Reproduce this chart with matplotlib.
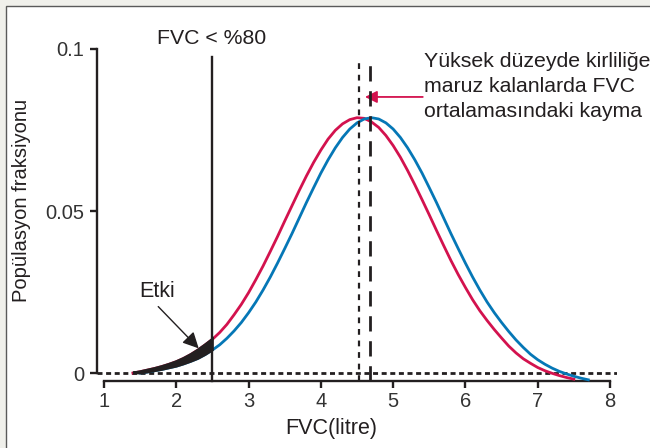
import matplotlib.pyplot as plt
from matplotlib.patches import Rectangle

# red curve: population exposed to high pollution (shifted left)
red_fvc = [1.4, 1.5, 1.6, 1.7, 1.8, 1.9, 2.0, 2.1, 2.2, 2.3, 2.4, 2.5,
           2.6, 2.7, 2.8, 2.9, 3.0, 3.1, 3.2, 3.3, 3.4, 3.5, 3.6, 3.7,
           3.8, 3.9, 4.0, 4.1, 4.2, 4.3, 4.4, 4.5, 4.6, 4.7, 4.8, 4.9,
           5.0, 5.1, 5.2, 5.3, 5.4, 5.5, 5.6, 5.7, 5.8, 5.9, 6.0, 6.1,
           6.2, 6.3, 6.4, 6.5, 6.6, 6.7, 6.8, 6.9, 7.0, 7.1, 7.2, 7.3,
           7.4, 7.5]
red_fraction = [0.0000, 0.0004, 0.0009, 0.0014, 0.0020, 0.0027, 0.0035, 0.0045,
                0.0057, 0.0071, 0.0087, 0.0104, 0.0125, 0.0150, 0.0180, 0.0212,
                0.0248, 0.0288, 0.0330, 0.0375, 0.0421, 0.0469, 0.0516, 0.0563,
                0.0608, 0.0650, 0.0688, 0.0722, 0.0749, 0.0769, 0.0782, 0.0788,
                0.0786, 0.0775, 0.0758, 0.0733, 0.0702, 0.0666, 0.0625, 0.0581,
                0.0535, 0.0488, 0.0440, 0.0393, 0.0347, 0.0304, 0.0264, 0.0226,
                0.0192, 0.0162, 0.0134, 0.0108, 0.0083, 0.0062, 0.0044, 0.0030,
                0.0017, 0.0007, -0.0001, -0.0008, -0.0014, -0.0019]

# blue curve: reference population
blue_fvc = [1.5, 1.6, 1.7, 1.8, 1.9, 2.0, 2.1, 2.2, 2.3, 2.4, 2.5, 2.6,
            2.7, 2.8, 2.9, 3.0, 3.1, 3.2, 3.3, 3.4, 3.5, 3.6, 3.7, 3.8,
            3.9, 4.0, 4.1, 4.2, 4.3, 4.4, 4.5, 4.6, 4.7, 4.8, 4.9, 5.0,
            5.1, 5.2, 5.3, 5.4, 5.5, 5.6, 5.7, 5.8, 5.9, 6.0, 6.1, 6.2,
            6.3, 6.4, 6.5, 6.6, 6.7, 6.8, 6.9, 7.0, 7.1, 7.2, 7.3, 7.4,
            7.5, 7.6, 7.7]
blue_fraction = [0.0000, 0.0003, 0.0007, 0.0011, 0.0016, 0.0021, 0.0028, 0.0036,
                 0.0045, 0.0057, 0.0071, 0.0087, 0.0107, 0.0130, 0.0156, 0.0186,
                 0.0219, 0.0256, 0.0296, 0.0339, 0.0384, 0.0430, 0.0478, 0.0526,
                 0.0572, 0.0617, 0.0658, 0.0695, 0.0727, 0.0753, 0.0772, 0.0784,
                 0.0788, 0.0784, 0.0772, 0.0753, 0.0727, 0.0695, 0.0658, 0.0617,
                 0.0572, 0.0526, 0.0478, 0.0430, 0.0384, 0.0339, 0.0296, 0.0256,
                 0.0219, 0.0186, 0.0156, 0.0128, 0.0102, 0.0079, 0.0058, 0.0041,
                 0.0027, 0.0015, 0.0005, -0.0003, -0.0010, -0.0016, -0.0021]

threshold_fvc = 2.5
exposed_mean = 4.53
normal_mean = 4.68

x_ticks = [1, 2, 3, 4, 5, 6, 7, 8]
y_ticks = [0, 0.05, 0.1]
y_tick_labels = ["0", "0.05", "0.1"]

RED = "#d3124e"
BLUE = "#0577b6"
INK = "#231f20"
SANS = ["Liberation Sans", "DejaVu Sans"]

W, H = 650, 448


def main() -> None:
    fig = plt.figure(figsize=(6.5, 4.48), dpi=100)
    fig.patch.set_facecolor("#f0f0eb")
    fig.add_artist(Rectangle((6 / W, -0.05), 1.0, (H - 6) / H + 0.05,
                             transform=fig.transFigure, facecolor="white",
                             edgecolor="#5a5a5a", lw=1.0, zorder=-5))

    ax = fig.add_axes([96.8 / W, (H - 381.1) / H, 520.4 / W, 332.1 / H])
    ax.set_facecolor("none")
    ax.set_xlim(0.9, 8.1)
    ax.set_ylim(-0.0025, 0.1)

    ax.plot(red_fvc, red_fraction, color=RED, lw=2.0, clip_on=False, zorder=3)
    ax.plot(blue_fvc, blue_fraction, color=BLUE, lw=2.0, clip_on=False, zorder=3)

    # shaded "effect" area below the threshold
    top_x = [x for x in red_fvc if x <= threshold_fvc]
    top_y = red_fraction[:len(top_x)]
    bot_x = [x for x in blue_fvc if x <= threshold_fvc]
    bot_y = blue_fraction[:len(bot_x)]
    ax.fill(top_x + bot_x[::-1], top_y + bot_y[::-1], color=INK,
            ec=INK, lw=2.0, zorder=4)

    ax.axhline(0, color=INK, lw=2.0, ls=(0, (1.8, 1.3)), zorder=2)
    ax.plot([threshold_fvc, threshold_fvc], [-0.0025, 0.0975], color=INK,
            lw=1.7, zorder=5, clip_on=False)
    ax.plot([exposed_mean, exposed_mean], [-0.0025, 0.096], color=INK,
            lw=1.6, ls=(0, (2.6, 2.6)), zorder=5, clip_on=False)
    ax.plot([normal_mean, normal_mean], [-0.0025, 0.096], color=INK,
            lw=2.0, ls=(0, (5.5, 3.5)), zorder=5, clip_on=False)

    ax.annotate("", xy=(4.61, 0.0852), xytext=(5.41, 0.0852),
                arrowprops=dict(arrowstyle="-|>", color=RED, lw=1.3,
                                mutation_scale=18, shrinkA=0, shrinkB=0))
    ax.annotate("", xy=(2.31, 0.0076), xytext=(1.75, 0.0205),
                arrowprops=dict(arrowstyle="-|>", color=INK, lw=1.0,
                                mutation_scale=24, shrinkA=0, shrinkB=0),
                zorder=6)

    for side in ("top", "right"):
        ax.spines[side].set_visible(False)
    ax.spines["left"].set_bounds(0, 0.1)
    ax.spines["bottom"].set_bounds(1, 8)
    for side in ("left", "bottom"):
        ax.spines[side].set_linewidth(1.7)
        ax.spines[side].set_color(INK)

    ax.set_xticks(x_ticks)
    ax.set_xticklabels([str(t) for t in x_ticks])
    ax.set_yticks(y_ticks)
    ax.set_yticklabels(y_tick_labels)
    ax.tick_params(axis="both", direction="out", length=5, width=1.7,
                   color=INK, labelsize=14.5, labelcolor="#333333")
    ax.tick_params(axis="y", pad=4)
    ax.tick_params(axis="x", pad=3)
    for lbl in ax.get_xticklabels() + ax.get_yticklabels():
        lbl.set_fontfamily(SANS)

    ax.text(2.49, 0.1032, "FVC < %80", ha="center", va="center",
            fontsize=15.3, family=SANS, color=INK)
    ax.text(1.73, 0.0253, "Etki", ha="center", va="center",
            fontsize=15.5, family=SANS, color=INK)

    lines = ["Yüksek düzeyde kirliliğe", "maruz kalanlarda FVC",
             "ortalamasındaki kayma"]
    for i, line in enumerate(lines):
        fig.text(424 / W, 1 - (67 + 25.2 * i) / H, line, ha="left",
                 va="baseline", fontsize=15.3, family=SANS, color=INK)

    fig.text(22 / W, 1 - 200 / H, "Popülasyon fraksiyonu", rotation=90,
             ha="center", va="center", fontsize=14.5, family=SANS, color=INK)
    fig.text(331 / W, 1 - 428 / H, "FVC(litre)", ha="center", va="center",
             fontsize=15.5, family=SANS, color=INK)

    fig.savefig("out.png", dpi=100, facecolor=fig.get_facecolor())


if __name__ == "__main__":
    main()
